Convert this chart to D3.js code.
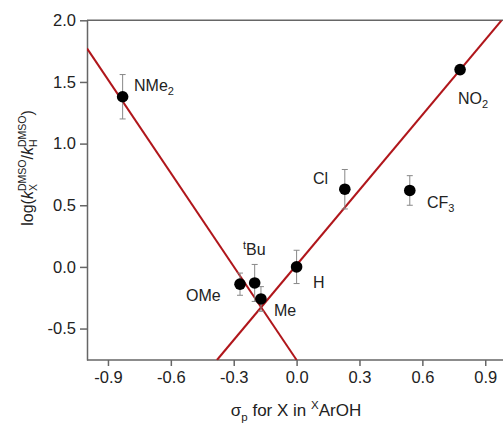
<!DOCTYPE html>
<html><head><meta charset="utf-8">
<script src="https://cdn.jsdelivr.net/npm/d3@7"></script>
<style>body{margin:0;background:#fff}svg{display:block}text{font-family:"Liberation Sans",Arial,sans-serif;fill:#222}</style>
</head><body><div id="chart"></div>
<script>
// Data
const substituents = ["NMe2","OMe","tBu","Me","H","Cl","CF3","NO2"];
const sigmaP = [-0.83,-0.27,-0.20,-0.17,0.00,0.23,0.54,0.78];
const logK = [1.38,-0.14,-0.13,-0.26,0.00,0.63,0.62,1.60];
const errK = [0.18,0.09,0.15,0.10,0.135,0.16,0.12,0];
const xTicks = [-0.9,-0.6,-0.3,0.0,0.3,0.6,0.9];
const yTicks = [-0.5,0.0,0.5,1.0,1.5,2.0];
const fitLineA = [[-1.0,1.772],[0.0,-0.755]];
const fitLineB = [[-0.38,-0.755],[0.978,2.0]];

const W=503,H=425;
const svg=d3.select("#chart").append("svg").attr("width",W).attr("height",H);
const x=d3.scaleLinear().domain([-1.0,1.0]).range([87,506.2]);
const y=d3.scaleLinear().domain([-0.755,2.0]).range([360,20.3]);

const axisColor="#666";
svg.append("defs").append("clipPath").attr("id","clip").append("rect")
  .attr("x",87).attr("y",20.3).attr("width",420).attr("height",340);

// frame top
svg.append("line").attr("x1",87).attr("x2",W).attr("y1",y(2.0)).attr("y2",y(2.0))
  .attr("stroke",axisColor).attr("stroke-width",1.5);

const fmt=d=>d.toFixed(1);
const gx=svg.append("g").attr("transform",`translate(0,${y(-0.755)})`)
  .call(d3.axisBottom(x).tickValues(xTicks).tickFormat(fmt).tickSize(6).tickPadding(5).tickSizeOuter(0));
const gy=svg.append("g").attr("transform",`translate(87,0)`)
  .call(d3.axisLeft(y).tickValues(yTicks).tickFormat(fmt).tickSize(7).tickPadding(4).tickSizeOuter(0));
[gx,gy].forEach(g=>{
  g.select(".domain").attr("stroke",axisColor).attr("stroke-width",1.5);
  g.selectAll(".tick line").attr("stroke",axisColor).attr("stroke-width",1.5);
  g.selectAll(".tick text").attr("font-size",16.5).attr("fill","#222").style("font-family","Liberation Sans, Arial, sans-serif");
});
gx.select(".domain").attr("d",`M87,0H${W}`);

// fit lines
const lineGen=d3.line().x(d=>x(d[0])).y(d=>y(d[1]));
const fits=svg.append("g").attr("clip-path","url(#clip)");
[fitLineA,fitLineB].forEach(l=>{
  fits.append("path").attr("d",lineGen(l)).attr("fill","none").attr("stroke","#b0161b").attr("stroke-width",2);
});

// error bars
const eb=svg.append("g").attr("stroke","#888").attr("stroke-width",1);
sigmaP.forEach((s,i)=>{
  if(!errK[i]) return;
  const cx=x(s), y1=y(logK[i]+errK[i]), y2=y(logK[i]-errK[i]);
  eb.append("line").attr("x1",cx).attr("x2",cx).attr("y1",y1).attr("y2",y2);
  eb.append("line").attr("x1",cx-3).attr("x2",cx+3).attr("y1",y1).attr("y2",y1);
  eb.append("line").attr("x1",cx-3).attr("x2",cx+3).attr("y1",y2).attr("y2",y2);
});
// points
svg.append("g").selectAll("circle").data(sigmaP).join("circle")
  .attr("cx",d=>x(d)).attr("cy",(d,i)=>y(logK[i])).attr("r",5.8).attr("fill","#000");

// labels
const labelPos = {
  "NMe2":[134,91], "OMe":[186,301], "tBu":[243,255], "Me":[274,316],
  "H":[313,288], "Cl":[313,184], "CF3":[427,208], "NO2":[458,104]
};
function addLabel(name){
  const [lx,ly]=labelPos[name];
  const t=svg.append("text").attr("x",lx).attr("y",ly).attr("font-size",16);
  if(name==="NMe2"){t.append("tspan").text("NMe");t.append("tspan").attr("font-size",11).attr("dy",4).text("2");}
  else if(name==="CF3"){t.append("tspan").text("CF");t.append("tspan").attr("font-size",11).attr("dy",4).text("3");}
  else if(name==="NO2"){t.append("tspan").text("NO");t.append("tspan").attr("font-size",11).attr("dy",4).text("2");}
  else if(name==="tBu"){t.append("tspan").attr("font-size",11).attr("dy",-6).text("t");t.append("tspan").attr("dy",6).text("Bu");}
  else t.text(name);
}
substituents.forEach(addLabel);

// x title
const xt=svg.append("text").attr("x",296).attr("y",416).attr("text-anchor","middle").attr("font-size",17);
xt.append("tspan").text("σ");
xt.append("tspan").attr("font-size",11.5).attr("dy",5).text("p");
xt.append("tspan").attr("dy",-5).text(" for X in ");
xt.append("tspan").attr("font-size",11.5).attr("dy",-7).text("X");
xt.append("tspan").attr("dy",7).text("ArOH");

// y title
function measure(txt,size,style){
  const tmp=svg.append("text").attr("font-size",size).style("font-style",style||"normal").text(txt);
  const w=tmp.node().getComputedTextLength(); tmp.remove(); return w;
}
const yt=svg.append("text").attr("transform","translate(33,168) rotate(-90)").attr("text-anchor","middle").attr("font-size",16);
yt.append("tspan").text("log(");
yt.append("tspan").style("font-style","italic").text("k");
yt.append("tspan").attr("font-size",10.5).attr("dy",4).text("X");
yt.append("tspan").attr("font-size",10.5).attr("dx",-measure("X",10.5)).attr("dy",-11).text("DMSO");
yt.append("tspan").attr("dy",7).text("/");
yt.append("tspan").style("font-style","italic").text("k");
yt.append("tspan").attr("font-size",10.5).attr("dy",4).text("H");
yt.append("tspan").attr("font-size",10.5).attr("dx",-measure("H",10.5)).attr("dy",-11).text("DMSO");
yt.append("tspan").attr("dy",7).text(")");
</script></body></html>
